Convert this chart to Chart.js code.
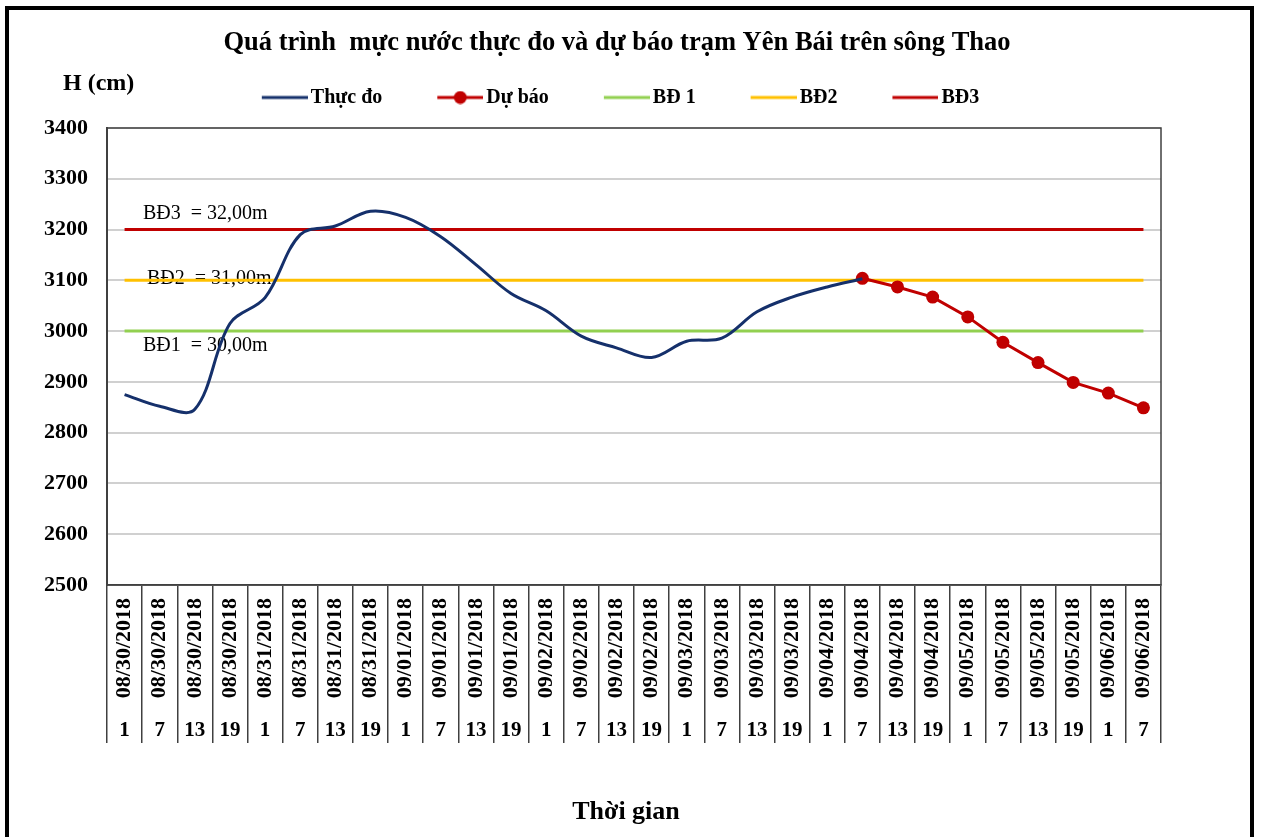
<!DOCTYPE html>
<html>
<head>
<meta charset="utf-8">
<title>Mực nước trạm Yên Bái</title>
<script src="https://cdn.jsdelivr.net/npm/chart.js@4.4.1/dist/chart.umd.min.js"></script>
<style>
  html, body { margin: 0; padding: 0; background: #fff; }
  #wrap { position: relative; width: 1264px; height: 837px; overflow: hidden; }
  #frame { position: absolute; left: 5px; top: 6px; width: 1241px; height: 900px; border: 4px solid #000; pointer-events: none; }
</style>
</head>
<body>
<div id="wrap">
  <canvas id="mucNuoc" width="1264" height="837"></canvas>
  <div id="frame"></div>
</div>
<script>
// nhãn trục hoành: ngày và giờ
const ngay = [
  '08/30/2018', '08/30/2018', '08/30/2018', '08/30/2018',
  '08/31/2018', '08/31/2018', '08/31/2018', '08/31/2018',
  '09/01/2018', '09/01/2018', '09/01/2018', '09/01/2018',
  '09/02/2018', '09/02/2018', '09/02/2018', '09/02/2018',
  '09/03/2018', '09/03/2018', '09/03/2018', '09/03/2018',
  '09/04/2018', '09/04/2018', '09/04/2018', '09/04/2018',
  '09/05/2018', '09/05/2018', '09/05/2018', '09/05/2018',
  '09/06/2018', '09/06/2018'
];
const gio = [
  '1', '7', '13', '19', '1', '7', '13', '19', '1', '7', '13', '19',
  '1', '7', '13', '19', '1', '7', '13', '19', '1', '7', '13', '19',
  '1', '7', '13', '19', '1', '7'
];

// mực nước thực đo (cm)
const thucDo = [
  2875, 2852, 2846, 3015, 3066, 3190, 3207, 3236, 3224, 3186,
  3131, 3074, 3040, 2990, 2967, 2948, 2980, 2986, 3038, 3067,
  3087, 3103, null, null, null, null, null, null, null, null
];
// mực nước dự báo (cm)
const duBao = [
  null, null, null, null, null, null, null, null, null, null,
  null, null, null, null, null, null, null, null, null, null,
  null, 3104, 3087, 3067, 3028, 2978, 2938, 2899, 2878, 2849
];

// các cấp báo động (cm)
const mucBD1 = 3000;
const mucBD2 = 3100;
const mucBD3 = 3200;

// trục tung
const yMin = 2500;
const yMax = 3400;
const yBuoc = 100;

const serif = '"Times New Roman", "Liberation Serif", serif';
const xanh = '#15306b';
const doDam = '#c00000';
const vang = '#ffc000';
const xanhLa = '#92d050';

// hình mẫu cho chú giải: đoạn thẳng (có chấm tròn nếu là dự báo)
function mauChuGiai(mau, coCham) {
  const c = document.createElement('canvas');
  c.width = 60;
  c.height = 14;
  const g = c.getContext('2d');
  g.strokeStyle = mau;
  g.lineWidth = 3;
  g.beginPath();
  g.moveTo(14, 7);
  g.lineTo(60, 7);
  g.stroke();
  if (coCham) {
    g.fillStyle = mau;
    g.beginPath();
    g.arc(37, 7, 6.5, 0, Math.PI * 2);
    g.fill();
  }
  return c;
}
const hinhChuGiai = [
  mauChuGiai(xanh, false),
  mauChuGiai(doDam, true),
  mauChuGiai(xanhLa, false),
  mauChuGiai(vang, false),
  mauChuGiai(doDam, false)
];

// chữ ghi chú, khung vùng vẽ, tên trục
const ghiChu = {
  id: 'ghiChu',
  beforeDatasetsDraw(chart) {
    const {ctx, chartArea: a, scales: {y}} = chart;
    ctx.save();
    ctx.strokeStyle = '#404040';
    ctx.lineWidth = 1.5;
    ctx.strokeRect(a.left, a.top, a.right - a.left, a.bottom - a.top);

    ctx.fillStyle = '#000';
    ctx.font = '20px ' + serif;
    ctx.textAlign = 'left';
    ctx.textBaseline = 'alphabetic';
    ctx.fillText('BĐ3  = 32,00m', 143, y.getPixelForValue(mucBD3) - 10.5);
    ctx.fillText('BĐ2  = 31,00m', 147, y.getPixelForValue(mucBD2) + 3.5);
    ctx.fillText('BĐ1  = 30,00m', 143, y.getPixelForValue(mucBD1) + 20);
    ctx.restore();
  },
  afterDraw(chart) {
    const {ctx} = chart;
    ctx.save();
    ctx.fillStyle = '#000';
    ctx.textBaseline = 'alphabetic';
    ctx.textAlign = 'left';
    ctx.font = 'bold 24px ' + serif;
    ctx.fillText('H (cm)', 63, 90);
    ctx.textAlign = 'center';
    ctx.font = 'bold 26px ' + serif;
    ctx.fillText('Thời gian', 626, 819);
    ctx.restore();
  }
};

const doanThang = (nhan, mau, muc) => ({
  label: nhan,
  data: ngay.map(() => muc),
  borderColor: mau,
  backgroundColor: mau,
  borderWidth: 3,
  pointRadius: 0,
  tension: 0
});

new Chart(document.getElementById('mucNuoc'), {
  type: 'line',
  data: {
    labels: ngay,
    datasets: [
      {
        label: 'Thực đo',
        data: thucDo,
        borderColor: xanh,
        backgroundColor: xanh,
        borderWidth: 3,
        pointRadius: 0,
        tension: 0.35
      },
      {
        label: 'Dự báo',
        data: duBao,
        borderColor: doDam,
        backgroundColor: doDam,
        borderWidth: 3,
        pointRadius: 6.5,
        pointBorderWidth: 0,
        tension: 0
      },
      doanThang('BĐ 1', xanhLa, mucBD1),
      doanThang('BĐ2', vang, mucBD2),
      doanThang('BĐ3', doDam, mucBD3)
    ]
  },
  options: {
    responsive: false,
    animation: false,
    devicePixelRatio: 1,
    layout: { padding: { left: 0, right: 30, top: 0, bottom: 0 } },
    plugins: {
      title: {
        display: true,
        text: 'Quá trình  mực nước thực đo và dự báo trạm Yên Bái trên sông Thao',
        color: '#000',
        font: { family: serif, size: 26.5, weight: 'bold' },
        padding: { top: 27, bottom: -19.3 }
      },
      legend: {
        display: true,
        labels: {
          color: '#000',
          font: { family: serif, size: 20, weight: 'bold' },
          usePointStyle: true,
          pointStyleWidth: 46,
          padding: 48,
          generateLabels(chart) {
            const ds = Chart.defaults.plugins.legend.labels.generateLabels(chart);
            ds.forEach((item, i) => { item.pointStyle = hinhChuGiai[i]; });
            return ds;
          }
        }
      },
      tooltip: { enabled: false }
    },
    scales: {
      x: {
        type: 'category',
        position: 'bottom',
        offset: true,
        weight: 0,
        grid: {
          drawOnChartArea: false,
          offset: true,
          drawTicks: true,
          tickLength: 158,
          color: '#404040',
          lineWidth: 1.5
        },
        border: { display: true, color: '#404040', width: 1.5 },
        ticks: {
          autoSkip: false,
          maxRotation: 90,
          minRotation: 90,
          padding: -145,
          color: '#000',
          font: { family: serif, size: 22, weight: 'bold' }
        },
        afterFit(s) { s.height = 130; }
      },
      gioAxis: {
        type: 'category',
        position: 'bottom',
        labels: gio,
        offset: true,
        weight: 1,
        grid: { display: false, drawTicks: false },
        border: { display: false },
        ticks: {
          autoSkip: false,
          maxRotation: 0,
          minRotation: 0,
          padding: 3,
          color: '#000',
          font: { family: serif, size: 21, weight: 'bold' }
        },
        afterFit(s) { s.height = 122; }
      },
      dem: {
        type: 'category',
        position: 'top',
        labels: gio,
        offset: true,
        grid: { display: false, drawTicks: false },
        border: { display: false },
        ticks: { display: false },
        afterFit(s) { s.height = 10.5; }
      },
      y: {
        min: yMin,
        max: yMax,
        grid: { color: '#d0d0d0', lineWidth: 2, drawTicks: false },
        border: { display: true, color: '#404040', width: 2 },
        ticks: {
          stepSize: yBuoc,
          padding: 19,
          color: '#000',
          font: { family: serif, size: 22, weight: 'bold' },
          callback: v => String(v)
        },
        afterFit(s) { s.width = 107; }
      },
      lePhai: {
        type: 'linear',
        position: 'right',
        grid: { display: false, drawTicks: false },
        border: { display: false },
        ticks: { display: false },
        afterFit(s) { s.width = 73; }
      }
    }
  },
  plugins: [ghiChu]
});
</script>
</body>
</html>
